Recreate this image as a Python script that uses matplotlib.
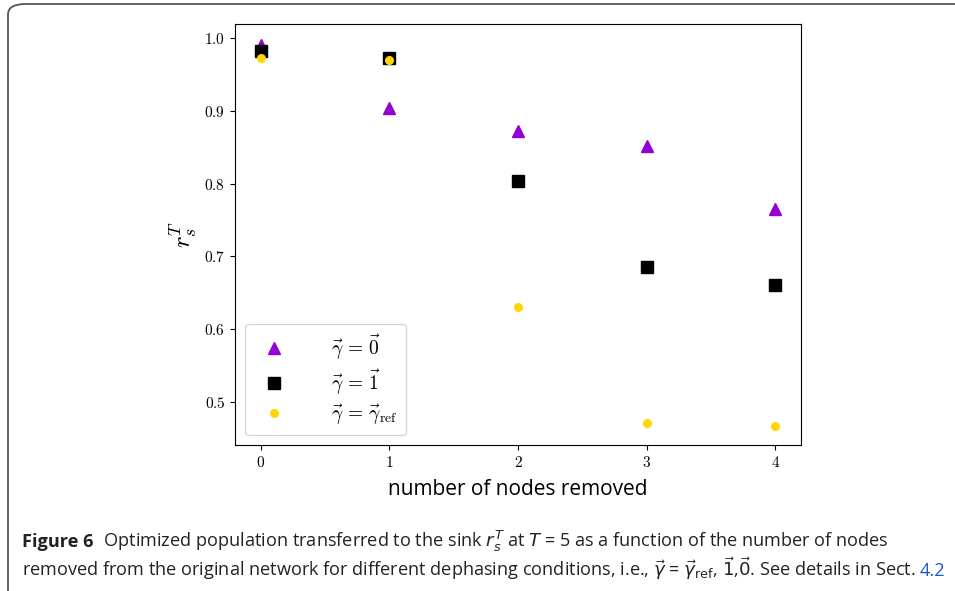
import matplotlib
matplotlib.use("Agg")
import matplotlib.pyplot as plt
from matplotlib.patches import FancyBboxPatch
from matplotlib.offsetbox import TextArea, HPacker, VPacker, AnchoredOffsetbox

plt.rcParams['mathtext.fontset'] = 'cm'
plt.rcParams['font.family'] = 'serif'
plt.rcParams['font.serif'] = ['cmr10']
plt.rcParams['axes.formatter.use_mathtext'] = True

nodes_removed = [0, 1, 2, 3, 4]
gamma_zero = [0.990, 0.904, 0.872, 0.852, 0.765]
gamma_one = [0.982, 0.972, 0.803, 0.686, 0.661]
gamma_ref = [0.972, 0.970, 0.630, 0.471, 0.467]
labels = [r'$\vec{\gamma}\,=\,\vec{0}$', r'$\vec{\gamma}\,=\,\vec{1}$',
          r'$\vec{\gamma}\,=\,\vec{\gamma}_{\mathrm{ref}}$']

fig = plt.figure(figsize=(9.55, 5.91), dpi=100)
W, H = 955, 591

# outer rounded frame
frame = FancyBboxPatch((8 / W, -10 / H), 1.1, (591 - 4 + 10) / H,
                       boxstyle="round,pad=0,rounding_size=0.018",
                       transform=fig.transFigure, fill=False,
                       edgecolor='#555555', linewidth=1.3, clip_on=False)
fig.patches.append(frame)

ax = fig.add_axes([235 / W, 1 - 445 / H, (801 - 235) / W, (445 - 24) / H])
ax.plot(nodes_removed, gamma_zero, linestyle='none', marker='^', color='#9400D3',
        markersize=9, label=labels[0])
ax.plot(nodes_removed, gamma_one, linestyle='none', marker='s', color='black',
        markersize=8, label=labels[1])
ax.plot(nodes_removed, gamma_ref, linestyle='none', marker='o', color='#FFD700',
        markersize=5.5, label=labels[2])

ax.set_xlim(-0.2, 4.2)
ax.set_ylim(0.441, 1.019)
ax.set_xticks([0, 1, 2, 3, 4])
ax.set_xticklabels(['$0$', '$1$', '$2$', '$3$', '$4$'])
ax.set_yticks([0.5, 0.6, 0.7, 0.8, 0.9, 1.0])
ax.set_yticklabels(['$0.5$', '$0.6$', '$0.7$', '$0.8$', '$0.9$', '$1.0$'])
ax.tick_params(labelsize=11)
ax.set_xlabel('number of nodes removed', family='Open Sans', fontsize=15, labelpad=7)
ax.set_ylabel(r'$r_s^T$', fontsize=18, labelpad=3)

leg = ax.legend(loc='lower left', fontsize=14, handletextpad=1.8, borderpad=0.42,
                labelspacing=0.3, handlelength=2.2, framealpha=0.8,
                borderaxespad=0.5)

# caption
cap_font = dict(family='Open Sans', fontsize=13.1, color='#222222')
p1 = TextArea('Figure 6', textprops=dict(cap_font, fontweight='bold'))
p2 = TextArea(r'  Optimized population transferred to the sink $r_s^T$ at $T$ = 5 as a function of the number of nodes',
              textprops=dict(cap_font, math_fontfamily='dejavusans'))
p3 = TextArea(r'removed from the original network for different dephasing conditions, i.e., $\vec{\gamma}$ = $\vec{\gamma}_{\mathrm{ref}}$, $\vec{1}$,$\vec{0}$. See details in Sect.',
              textprops=dict(cap_font, math_fontfamily='dejavusans'))
p4 = TextArea('4.2', textprops=dict(cap_font, color='#1a55d6'))
line1 = HPacker(children=[p1, p2], align='baseline', pad=0, sep=0)
line2 = HPacker(children=[p3, p4], align='baseline', pad=0, sep=3)
cap = VPacker(children=[line1, line2], align='left', pad=0, sep=1)
anch = AnchoredOffsetbox(loc='upper left', child=cap, pad=0, borderpad=0,
                         frameon=False, bbox_to_anchor=(22 / W, 1 - 529 / H),
                         bbox_transform=fig.transFigure)
fig.add_artist(anch)

fig.savefig('out.png', dpi=100)
